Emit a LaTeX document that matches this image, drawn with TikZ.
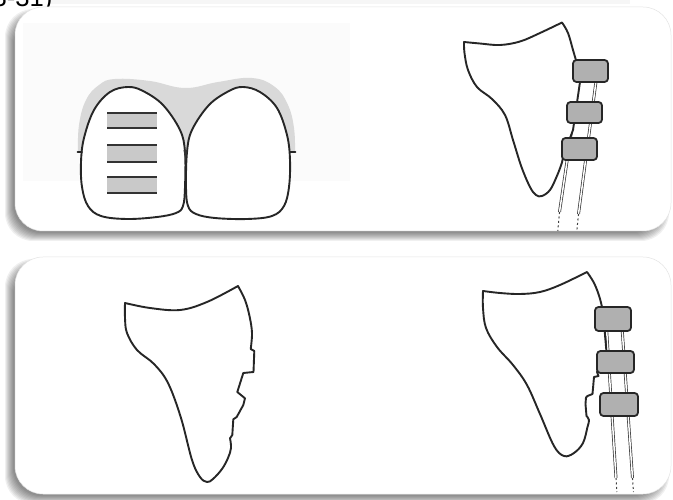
\documentclass[tikz,border=0pt]{standalone}
\usepackage{fontspec}
\newfontfamily\capfont{Liberation Sans}
\usetikzlibrary{calc}
% soft drop shadow of a rounded panel, offset to the lower left
\newcommand\softpanelshadow[4]{%
  \foreach \k in {0,...,8}{%
    \fill[black, opacity=0.06, rounded corners=28pt]
      (#1-10+\k, #2+2+\k) rectangle (#3-2-\k, #4+10-\k);
  }}
\begin{document}
\begin{tikzpicture}[x=1pt, y=-1pt,
  outline/.style={draw=black!85, line width=1.9pt, line join=round, line cap=round},
  bandbox/.style={draw=black!85, line width=1.8pt, fill=gray!62, rounded corners=3.5pt},
  wire/.style={draw=black!80, line width=0.7pt, double=white, double distance=1.5pt},
  wireend/.style={draw=black!75, line width=1pt, dash pattern=on 2pt off 2.5pt},
  gum/.style={fill=gray!30},
  panel/.style={fill=white, draw=gray!22, line width=0.5pt, rounded corners=28pt},
  stripe/.style={draw=black!80, line width=1.7pt},
]
\useasboundingbox (0,0) rectangle (673,500);
\fill[white] (0,0) rectangle (673,500);
\fill[gray!7] (50,0) rectangle (630,4);

% caption fragment above the panels
\node[anchor=base west, inner sep=0pt, font=\capfont\fontsize{25.6}{30}\selectfont] (figref) at (-7.5,7) {3-31)};

% panels
\softpanelshadow{15}{7}{671}{231}
\softpanelshadow{15}{257}{671}{494}
\path[panel] (15,7) rectangle (671,231);
\path[panel] (15,257) rectangle (671,494);
\fill[gray!3.5] (23,23) rectangle (350,181);

% ---- upper left: two incisors, gingiva and three stripes ----
\fill[gum] plot[smooth, tension=0.7] coordinates {(78,152) (79,125) (86,100) (99,85) (115,79) (150,81) (185,88) (218,82) (252,78) (275,87) (288,105) (294,128) (295,152)} -- cycle;
\draw[outline, fill=white] plot[smooth cycle, tension=0.6] coordinates {(185,152) (180,130) (163,105) (143,91) (128,87) (110,92) (94,110) (84,138) (81,162) (82,187) (88,206) (101,216) (127,219) (157,217) (176,213) (183,206) (185,187)};
\draw[outline, fill=white] plot[smooth cycle, tension=0.6] coordinates {(187,152) (192,130) (209,105) (229,91) (243,87) (260,92) (277,108) (287,135) (290,160) (289,187) (284,206) (272,216) (247,219) (215,218) (196,214) (188,206) (186,187)};
\fill[black!80] (183.5,150) -- (187.5,150) -- (185.5,161) -- cycle;
\draw[outline] (77.5,152) -- (82,152);
\draw[outline] (290,152) -- (295.5,152);
\foreach \ya/\yb in {113/128, 145/162, 177/193}{
  \fill[gray!42] (107,\ya) rectangle (157,\yb);
  \draw[stripe] (107,\ya) -- (157,\ya);
  \draw[stripe] (107,\yb) -- (157,\yb);
}

% ---- upper right: profile with three bands on the wire ----
\draw[wire] (580.5,70) -- (559.5,212);
\draw[wire] (597.5,70) -- (578.5,214);
\draw[wireend] (559.5,212) -- (557.8,231);
\draw[wireend] (578.5,214) -- (576.8,231);
\draw[outline, fill=white]
  plot[smooth, tension=0.6] coordinates {(563,157) (561.5,164) (556.5,177) (550,190) (542,196) (536,195) (530,187) (521.5,167) (513,140) (505,115) (492,99) (477,87) (468,70) (464.5,53) (464,42)}
  -- plot[smooth, tension=0.6] coordinates {(464,42) (480,43.5) (500,45) (520,41.5) (540,33) (562,22.5)}
  -- plot[smooth, tension=0.6] coordinates {(562,22.5) (568,33) (573,50) (576.5,62)}
  -- (580,82) -- (573,130) -- (563,157);
\draw[bandbox] (573,60) rectangle (608,82);
\draw[bandbox] (567,102) rectangle (602,123);
\draw[bandbox] (562,138) rectangle (597,160);

% ---- lower left: notched profile ----
\draw[outline, fill=white]
  plot[smooth, tension=0.6] coordinates {(125,303) (150,308) (180,310) (207,302) (238,286)}
  -- plot[smooth, tension=0.6] coordinates {(238,286) (245,300) (249.5,316) (252,333) (250.7,349)}
  -- (254.3,351) -- (253.5,372) -- (243.3,373) -- (237.3,392) -- (245,398.3) -- (243.3,405)
  -- (236.7,417) -- (233.3,419.3) -- (232.3,435) -- (230,438.3)
  -- plot[smooth, tension=0.6] coordinates {(230,438.3) (231,448) (228,458) (222,469) (213,479) (207,482) (200,477) (192,460) (181,418) (168,383) (154,364) (137,350) (127,333) (125,318) (125,303)}
  -- cycle;

% ---- lower right: notched profile with bands on the wire ----
\draw[wire] (606,320) -- (616,478);
\draw[wire] (621.5,320) -- (632.5,478);
\draw[wireend] (616,478) -- (616.8,492);
\draw[wireend] (632.5,478) -- (633.5,492);
\draw[outline, fill=white]
  plot[smooth, tension=0.6] coordinates {(483,291) (500,293) (520,294) (540,292) (560,285) (587,272)}
  -- plot[smooth, tension=0.6] coordinates {(587,272) (593.5,282) (598.5,294) (602,307) (604,320)}
  -- (605,335) -- (606.5,352) -- (597,372) -- (598.5,376) -- (594,377) -- (592.5,394)
  -- (587.5,396) -- (586,397.5) -- (585.5,404) -- (586.5,416)
  -- plot[smooth, tension=0.6] coordinates {(586.5,416) (589,420) (587.5,427) (583,443) (574,453) (564,456) (554,446) (540,414) (527,385) (513,365) (497,347) (486,328) (483,308) (483,291)}
  -- cycle;
\draw[bandbox] (595,307) rectangle (631,331);
\draw[bandbox] (597,351) rectangle (634,373);
\draw[bandbox] (600,393) rectangle (638,416);
\end{tikzpicture}
\end{document}
